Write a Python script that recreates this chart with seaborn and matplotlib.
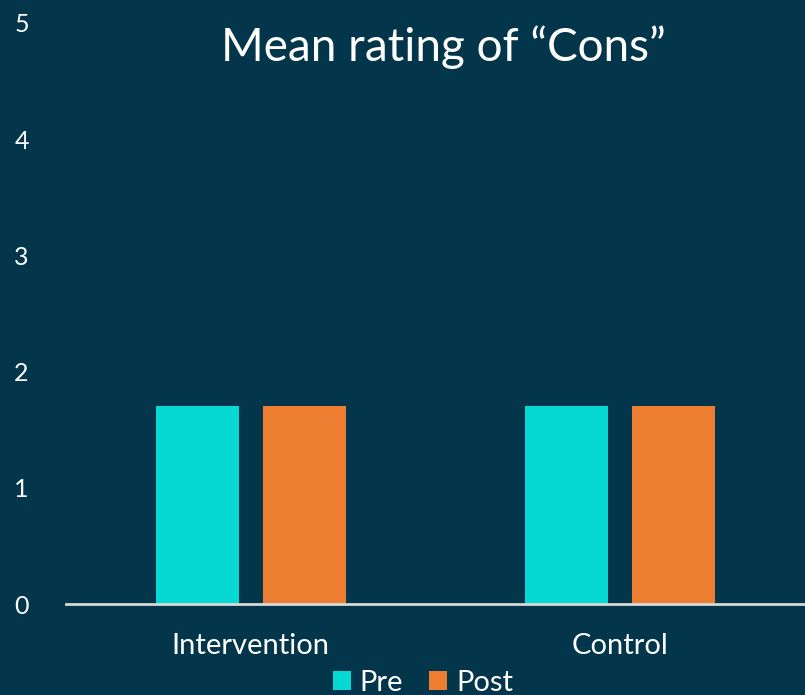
import pandas as pd
import matplotlib.pyplot as plt
import seaborn as sns
from matplotlib.patches import Patch

# Chart data
groups = ['Intervention', 'Control']
times = ['Pre', 'Post']
pre_values = [1.7, 1.7]
post_values = [1.7, 1.7]
y_ticks = [0, 1, 2, 3, 4, 5]

df = pd.DataFrame({
    'Group': groups * 2,
    'Time': [times[0]] * len(groups) + [times[1]] * len(groups),
    'Rating': pre_values + post_values,
})

bg = '#03364A'
colors = {'Pre': '#06D9D4', 'Post': '#ED7D31'}

sns.set_style('white')
plt.rcParams['font.family'] = ['Lato', 'DejaVu Sans']

fig = plt.figure(figsize=(8.05, 6.95), dpi=100, facecolor=bg)
ax = fig.add_axes([66 / 805, 1 - 604 / 695, 1 - 66 / 805, (604 - 23) / 695])
ax.set_facecolor(bg)

sns.barplot(data=df, x='Group', y='Rating', hue='Time', order=groups,
            hue_order=times, palette=colors, width=0.579, gap=0.224,
            saturation=1, linewidth=0, ax=ax, legend=False)

ax.set_xlim(-0.5, 1.5)
ax.set_ylim(0, 5)
ax.set_yticks(y_ticks)
ax.set_xlabel('')
ax.set_ylabel('')
ax.tick_params(axis='y', colors='white', labelsize=18, length=0, pad=32)
ax.tick_params(axis='x', colors='white', labelsize=21, length=0, pad=21)
for lbl in ax.get_yticklabels():
    lbl.set_horizontalalignment('center')
for side in ['top', 'right', 'left']:
    ax.spines[side].set_visible(False)
ax.spines['bottom'].set_color('#D9D9D9')
ax.spines['bottom'].set_linewidth(2)

fig.text(443 / 805, 1 - 47 / 695, 'Mean rating of \u201cCons\u201d', color='white',
         fontsize=33, ha='center', va='center')

handles = [Patch(facecolor=colors[t], edgecolor='none', label=t) for t in times]
fig.legend(handles=handles, loc='center', bbox_to_anchor=(423 / 805, 1 - 683 / 695),
           ncol=2, frameon=False, fontsize=21, labelcolor='white',
           handlelength=0.62, handleheight=0.62, handletextpad=0.3, columnspacing=0.9)

plt.savefig('out.png', dpi=100, facecolor=bg)
